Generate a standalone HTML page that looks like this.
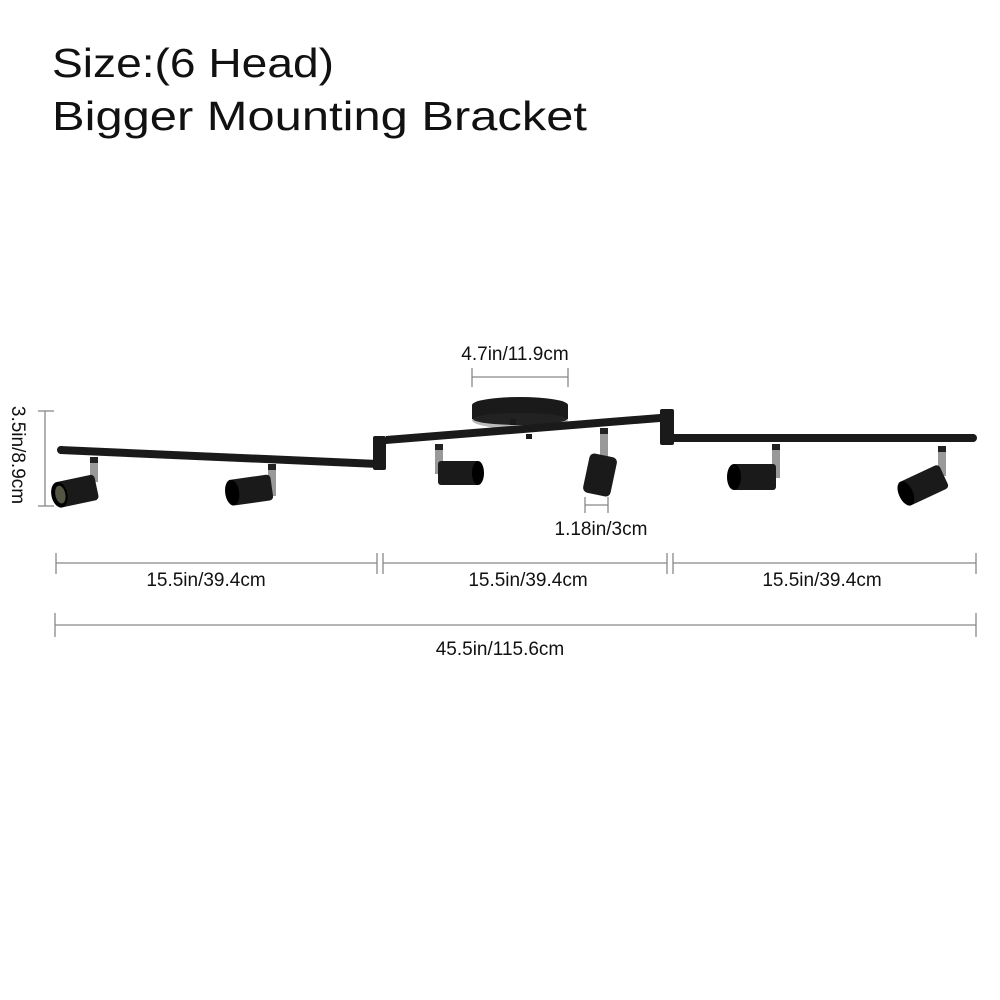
<!DOCTYPE html>
<html><head><style>body{margin:0;background:#fff}svg{display:block}</style></head>
<body>
<svg width="1000" height="1000" viewBox="0 0 1000 1000" xmlns="http://www.w3.org/2000/svg" font-family="Liberation Sans, sans-serif">
<rect width="1000" height="1000" fill="#fff"/>
<text x="52" y="77" font-size="41" fill="#111" textLength="282" lengthAdjust="spacingAndGlyphs">Size:(6 Head)</text>
<text x="52" y="130" font-size="41" fill="#111" textLength="535" lengthAdjust="spacingAndGlyphs">Bigger Mounting Bracket</text>

<g stroke="#888" stroke-width="1.3" fill="none">
<line x1="45" y1="411" x2="45" y2="506"/><line x1="38" y1="411" x2="54" y2="411"/><line x1="38" y1="506" x2="54" y2="506"/>
<line x1="472" y1="377" x2="568" y2="377"/><line x1="472" y1="368" x2="472" y2="387"/><line x1="568" y1="368" x2="568" y2="387"/>
<line x1="585" y1="505" x2="608" y2="505"/><line x1="585" y1="497" x2="585" y2="513"/><line x1="608" y1="497" x2="608" y2="513"/>
<line x1="56" y1="563" x2="377" y2="563"/><line x1="383" y1="563" x2="667" y2="563"/><line x1="673" y1="563" x2="976" y2="563"/>
<line x1="56" y1="553" x2="56" y2="574"/><line x1="377" y1="553" x2="377" y2="574"/><line x1="383" y1="553" x2="383" y2="574"/><line x1="667" y1="553" x2="667" y2="574"/><line x1="673" y1="553" x2="673" y2="574"/><line x1="976" y1="553" x2="976" y2="574"/>
<line x1="55" y1="625" x2="976" y2="625"/><line x1="55" y1="613" x2="55" y2="637"/><line x1="976" y1="613" x2="976" y2="637"/>
</g>
<g font-size="19" fill="#111" text-anchor="middle">
<text x="515" y="360">4.7in/11.9cm</text>
<text x="601" y="535">1.18in/3cm</text>
<text x="206" y="586">15.5in/39.4cm</text>
<text x="528" y="586">15.5in/39.4cm</text>
<text x="822" y="586">15.5in/39.4cm</text>
<text x="500" y="655">45.5in/115.6cm</text>
<text transform="translate(12,455) rotate(90)">3.5in/8.9cm</text>
</g>

<!-- fixture -->
<g fill="#1a1a1a" stroke="none">
<!-- canopy -->
<ellipse cx="520" cy="420" rx="48" ry="9" fill="#bbb"/>
<rect x="472" y="405" width="96" height="14"/>
<ellipse cx="520" cy="405" rx="48" ry="8"/>
<ellipse cx="520" cy="419" rx="47" ry="6" fill="#222"/>
<rect x="510" y="419" width="6" height="6"/>
<rect x="526" y="434" width="6" height="5"/>
<!-- bars -->
<path d="M60 446 L378 460 L378 468 L60 454 Z"/><circle cx="61" cy="450" r="4"/>
<path d="M386 436 L660 414 L660 422 L386 444 Z"/>
<rect x="674" y="434" width="300" height="8"/><circle cx="973" cy="438" r="4"/>
<rect x="373" y="436" width="13" height="34" rx="2"/>
<rect x="660" y="409" width="14" height="36" rx="2"/>
<!-- stems -->
<g fill="#999"><rect x="90" y="457" width="8" height="25"/><rect x="268" y="464" width="8" height="32"/><rect x="435" y="444" width="8" height="30"/><rect x="600" y="428" width="8" height="32"/><rect x="772" y="444" width="8" height="34"/><rect x="938" y="446" width="8" height="30"/></g>
<g fill="#222"><rect x="90" y="457" width="8" height="6"/><rect x="268" y="464" width="8" height="6"/><rect x="435" y="444" width="8" height="6"/><rect x="600" y="428" width="8" height="6"/><rect x="772" y="444" width="8" height="6"/><rect x="938" y="446" width="8" height="6"/></g>
<!-- heads -->
<g transform="translate(77,491) rotate(-12)"><rect x="-20" y="-13" width="40" height="26" rx="4"/><ellipse cx="-18" cy="0" rx="8" ry="13" fill="#000"/><ellipse cx="-17" cy="0" rx="5" ry="9" fill="#554"/></g>
<g transform="translate(251,490) rotate(-8)"><rect x="-21" y="-13" width="42" height="26" rx="4"/><ellipse cx="-19" cy="0" rx="7" ry="13" fill="#000"/></g>
<g transform="translate(459,473)"><rect x="-21" y="-12" width="42" height="24" rx="3"/><ellipse cx="19" cy="0" rx="6" ry="12" fill="#000"/></g>
<g transform="translate(600,475) rotate(12)"><rect x="-14" y="-20" width="28" height="40" rx="5"/></g>
<g transform="translate(754,477)"><rect x="-22" y="-13" width="44" height="26" rx="3"/><ellipse cx="-20" cy="0" rx="7" ry="13" fill="#000"/></g>
<g transform="translate(924,485) rotate(-25)"><rect x="-22" y="-13" width="44" height="26" rx="4"/><ellipse cx="-20" cy="0" rx="7" ry="13" fill="#000"/></g>
</g>
</svg>
</body></html>
